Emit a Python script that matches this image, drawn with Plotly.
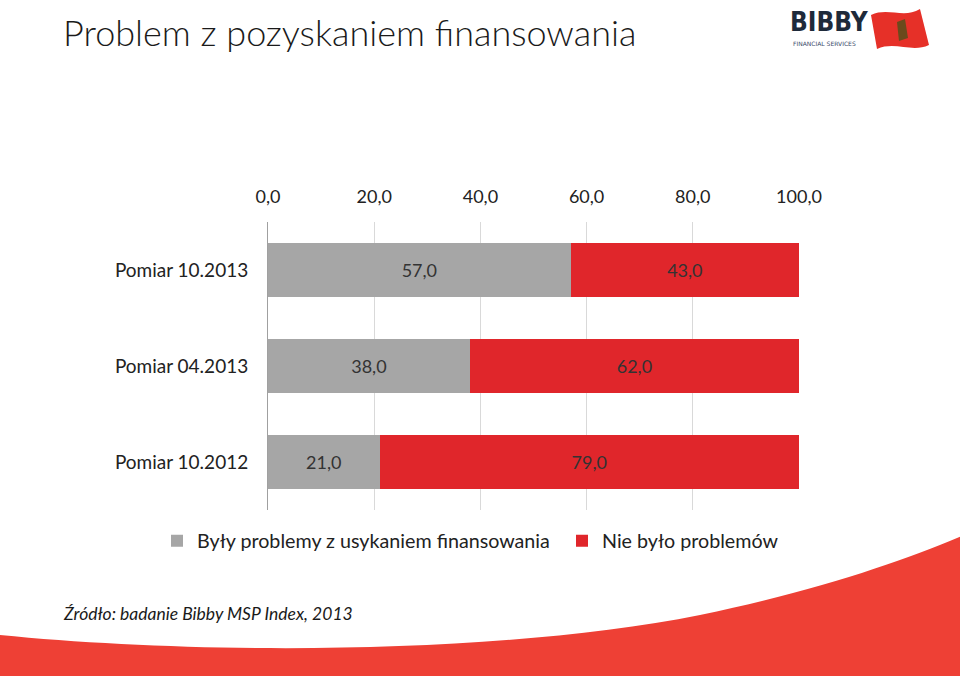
import plotly.graph_objects as go

# ---- data ----
categories = ["Pomiar 10.2013", "Pomiar 04.2013", "Pomiar 10.2012"]
problems = [57.0, 38.0, 21.0]
no_problems = [43.0, 62.0, 79.0]
series_names = ["Były problemy z usykaniem finansowania", "Nie było problemów"]
tick_vals = [0, 20, 40, 60, 80, 100]
tick_text = ["0,0", "20,0", "40,0", "60,0", "80,0", "100,0"]

W, H = 960, 681
L, R, T, B = 268, 799, 222, 510  # plot area in page px


def px(x):
    return (x - L) / (R - L)


def py(y):
    return (B - y) / (B - T)


def fmt(v):
    return f"{v:.1f}".replace(".", ",")


FONT = "Lato, 'Open Sans', sans-serif"
GRAY = "#a6a6a6"
RED = "#e0262b"

fig = go.Figure()
fig.add_trace(go.Bar(
    y=categories, x=problems, orientation="h", name=series_names[0],
    marker=dict(color=GRAY, line=dict(width=0)), legend="legend",
    text=[fmt(v) for v in problems], textposition="inside",
    insidetextanchor="middle", textangle=0,
    textfont=dict(size=18, color="#333333", family=FONT),
))
fig.add_trace(go.Bar(
    y=categories, x=no_problems, orientation="h", name=series_names[1],
    marker=dict(color=RED, line=dict(width=0)), legend="legend2",
    text=[fmt(v) for v in no_problems], textposition="inside",
    insidetextanchor="middle", textangle=0,
    textfont=dict(size=18, color="#333333", family=FONT),
))


def path_from(points_cmds):
    out = []
    for cmd, pts in points_cmds:
        s = cmd
        s += " ".join(f"{px(x):.5f},{py(y):.5f}" for x, y in pts)
        out.append(s)
    return " ".join(out) + " Z"


wave = path_from([
    ("M", [(0, 635)]),
    ("C", [(200, 655), (500, 655), (700, 615)]),
    ("C", [(820, 590), (900, 562), (962, 536)]),
    ("L", [(962, 676)]),
    ("L", [(0, 676)]),
])
flag = path_from([
    ("M", [(871, 15)]),
    ("C", [(888, 7), (904, 19), (920, 9)]),
    ("L", [(929, 45)]),
    ("C", [(912, 53), (895, 41), (877, 49)]),
])
emblem = path_from([
    ("M", [(897, 22)]),
    ("L", [(905, 19)]),
    ("L", [(908, 38)]),
    ("L", [(899, 41)]),
])

shapes = [
    dict(type="path", path=wave, xref="paper", yref="paper",
         fillcolor="#ee4035", line=dict(width=0), layer="below"),
    dict(type="path", path=flag, xref="paper", yref="paper",
         fillcolor="#e63028", line=dict(width=0)),
    dict(type="path", path=emblem, xref="paper", yref="paper",
         fillcolor="#6b4a1c", line=dict(width=0)),
]

annotations = [
    dict(text="Problem z pozyskaniem finansowania", x=px(61), y=py(32),
         xref="paper", yref="paper", xanchor="left", yanchor="middle",
         showarrow=False,
         font=dict(size=36, color="#1a1a1a", family=FONT, weight=300)),
    dict(text="<i>Źródło: badanie Bibby MSP Index, 2013</i>", x=px(61), y=py(613),
         xref="paper", yref="paper", xanchor="left", yanchor="middle",
         showarrow=False, font=dict(size=17.5, color="#1a1a1a", family=FONT)),
    dict(text="<b>BIBBY</b>", x=px(788), y=py(22),
         xref="paper", yref="paper", xanchor="left", yanchor="middle",
         showarrow=False,
         font=dict(size=26, color="#1e2a3a",
                   family="'DejaVu Sans Condensed', 'DejaVu Sans', sans-serif")),
    dict(text="FINANCIAL SERVICES", x=px(791), y=py(43),
         xref="paper", yref="paper", xanchor="left", yanchor="middle",
         showarrow=False,
         font=dict(size=6, color="#3a4a6a", family="'DejaVu Sans', sans-serif")),
]

legend_common = dict(orientation="h", xref="container", yref="container",
                     xanchor="left", yanchor="middle",
                     y=(H - 541) / H,
                     font=dict(size=19.7, color="#222222", family=FONT),
                     itemwidth=30, bgcolor="rgba(0,0,0,0)")

fig.update_layout(
    width=W, height=H,
    margin=dict(l=L, r=W - R, t=T, b=H - B, pad=0),
    paper_bgcolor="white", plot_bgcolor="white",
    barmode="stack", bargap=0.43,
    font=dict(family=FONT, color="#222222", size=18),
    showlegend=True,
    legend=dict(x=157 / W, **legend_common),
    legend2=dict(x=562 / W, **legend_common),
    shapes=shapes,
    annotations=annotations,
    xaxis=dict(side="top", range=[0, 100], tickvals=tick_vals, ticktext=tick_text,
               showgrid=True, gridcolor="#d9d9d9", gridwidth=1,
               zeroline=False, showline=False, ticks="",
               ticklabelstandoff=14,
               tickfont=dict(size=18, color="#222222", family=FONT),
               fixedrange=True),
    yaxis=dict(categoryorder="array", categoryarray=categories[::-1],
               showgrid=False, zeroline=False, showline=True,
               linecolor="#a0a0a0", linewidth=1, ticks="",
               ticklabelstandoff=15,
               tickfont=dict(size=19, color="#222222", family=FONT),
               fixedrange=True),
)

fig.write_html(
    "out.html",
    config={"displayModeBar": False},
    post_script="document.body.style.margin='0';document.body.style.overflow='hidden';",
)
